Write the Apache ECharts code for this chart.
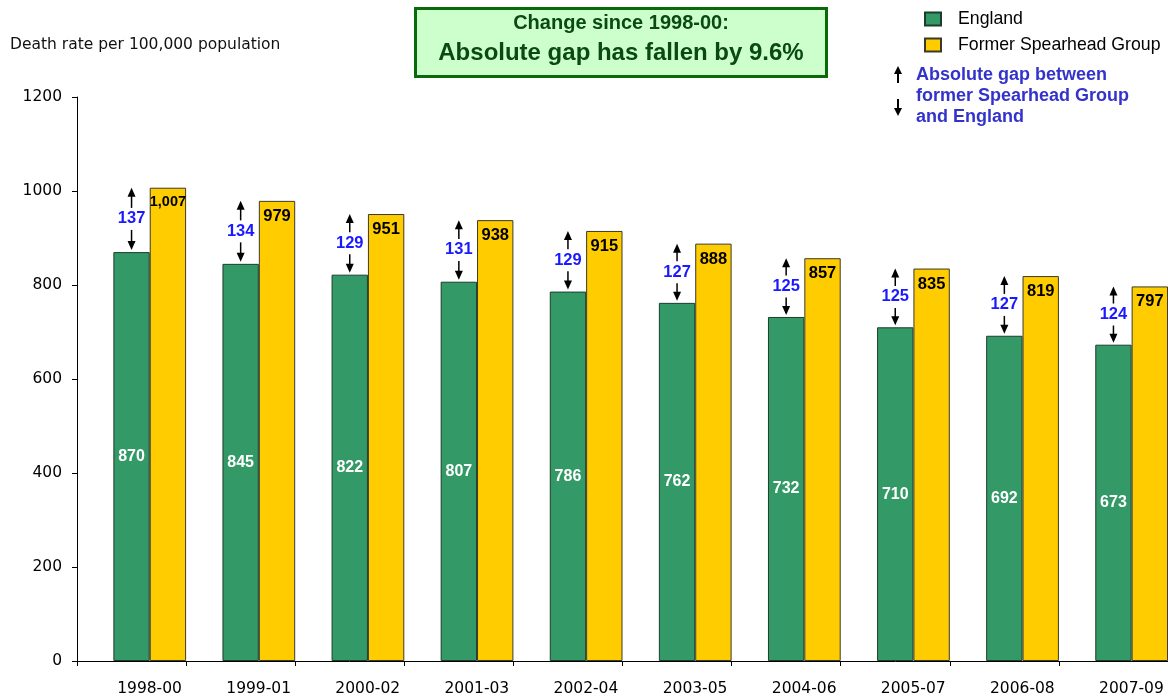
<!DOCTYPE html>
<html>
<head>
<meta charset="utf-8">
<script src="https://cdn.jsdelivr.net/npm/echarts@6/dist/echarts.min.js"></script>
<style>
  html, body { margin: 0; padding: 0; background: #fff; }
  #chart { width: 1168px; height: 697px; }
</style>
</head>
<body>
<div id="chart"></div>
<script>
const categories = ["1998-00", "1999-01", "2000-02", "2001-03", "2002-04", "2003-05", "2004-06", "2005-07", "2006-08", "2007-09"]
const england = [870, 845, 822, 807, 786, 762, 732, 710, 692, 673]
const spearhead = [1007, 979, 951, 938, 915, 888, 857, 835, 819, 797]
const gap = [137, 134, 129, 131, 129, 127, 125, 125, 127, 124]

const GREEN = "#339966"
const YELLOW = "#ffcc00"
const TAHOMA = "DejaVu Sans"
const ARIAL = "Liberation Sans"

// double arrow between the two bar tops, with the gap in the middle
function renderGap(params, api) {
    const i = api.value(0)
    const x = api.coord([i, 0])[0]
    const yE = api.coord([i, api.value(1)])[1] - 2
    const yS = api.coord([i, api.value(2)])[1]
    const mid = (yE + yS) / 2
    const stroke = { stroke: "#000", lineWidth: 1.5 }
    return {
        type: "group",
        children: [
            { type: "line", shape: { x1: x, y1: yS + 6, x2: x, y2: mid - 11 }, style: stroke },
            { type: "polygon", shape: { points: [[x, yS], [x - 4, yS + 9], [x + 4, yS + 9]] }, style: { fill: "#000" } },
            { type: "line", shape: { x1: x, y1: mid + 11, x2: x, y2: yE - 6 }, style: stroke },
            { type: "polygon", shape: { points: [[x, yE], [x - 4, yE - 9], [x + 4, yE - 9]] }, style: { fill: "#000" } },
            {
                type: "text", x: x, y: mid,
                style: { text: String(api.value(3)), fill: "#1a1aff", font: "bold 16.5px " + ARIAL, align: "center", verticalAlign: "middle" }
            }
        ]
    }
}

function arrow(x, y1, y2) {
    const dir = y2 > y1 ? 1 : -1
    return [
        { type: "line", shape: { x1: x, y1: y1, x2: x, y2: y2 - dir * 5 }, style: { stroke: "#000", lineWidth: 2 } },
        { type: "polygon", shape: { points: [[x, y2], [x - 4, y2 - dir * 8], [x + 4, y2 - dir * 8]] }, style: { fill: "#000" } }
    ]
}

const chart = echarts.init(document.getElementById("chart"))
chart.setOption({
    animation: false,
    grid: { left: 77, top: 97, width: 1095, bottom: 36 },
    legend: {
        data: ["England", "Former Spearhead Group"],
        orient: "vertical",
        icon: "rect",
        left: 919,
        top: 5,
        itemWidth: 16,
        itemHeight: 13,
        itemGap: 8,
        textStyle: { fontFamily: ARIAL, fontSize: 17.7, color: "#000", padding: [0, 0, 0, 12] }
    },
    xAxis: {
        type: "category",
        data: categories,
        axisLine: { lineStyle: { color: "#000", width: 1 } },
        axisTick: { show: true, length: 5, lineStyle: { color: "#000" } },
        axisLabel: { fontFamily: TAHOMA, fontSize: 15.5, color: "#000", margin: 20, padding: [0, 0, 0, 36] }
    },
    yAxis: {
        type: "value",
        min: 0,
        max: 1200,
        interval: 200,
        splitLine: { show: false },
        axisLine: { show: true, lineStyle: { color: "#000", width: 1 } },
        axisTick: { show: true, length: 5, lineStyle: { color: "#000" } },
        axisLabel: { fontFamily: TAHOMA, fontSize: 15.5, color: "#000", margin: 15, formatter: v => String(v) }
    },
    series: [
        {
            name: "spacer",
            type: "bar",
            data: categories.map(() => "-"),
            barGap: "0%",
            barCategoryGap: "0%",
            silent: true
        },
        {
            name: "England",
            type: "bar",
            data: england,
            barGap: "0%",
            barCategoryGap: "0%",
            itemStyle: { color: GREEN, borderColor: "#1d3d2c", borderWidth: 1 },
            label: { show: true, position: "inside", color: "#fff", fontFamily: ARIAL, fontWeight: "bold", fontSize: 16 }
        },
        {
            name: "Former Spearhead Group",
            type: "bar",
            data: spearhead.map(v => v >= 1000 ? { value: v, label: { fontSize: 14.5 } } : v),
            barGap: "0%",
            barCategoryGap: "0%",
            itemStyle: { color: YELLOW, borderColor: "#3a3a2a", borderWidth: 1 },
            label: {
                show: true, position: "insideTop", distance: 7, color: "#000",
                fontFamily: ARIAL, fontWeight: "bold", fontSize: 16.5,
                formatter: p => p.value.toLocaleString("en-US")
            }
        },
        {
            name: "gap",
            type: "custom",
            data: categories.map((c, i) => [i, england[i], spearhead[i], gap[i]]),
            encode: { x: 0, y: [1, 2] },
            renderItem: renderGap,
            silent: true,
            z: 5
        }
    ],
    graphic: [
        {
            type: "text", left: 10, top: 37,
            style: { text: "Death rate per 100,000 population", font: "15.5px " + TAHOMA, fill: "#111" }
        },
        {
            type: "group",
            children: [
                { type: "rect", shape: { x: 415.5, y: 8.5, width: 411, height: 68 }, style: { fill: "#ccffcc", stroke: "#0a6a0a", lineWidth: 3 } },
                { type: "text", x: 621, y: 23, style: { text: "Change since 1998-00:", font: "bold 20px " + ARIAL, fill: "#0a4a12", align: "center", verticalAlign: "middle" } },
                { type: "text", x: 621, y: 53, style: { text: "Absolute gap has fallen by 9.6%", font: "bold 24px " + ARIAL, fill: "#0a4a12", align: "center", verticalAlign: "middle" } }
            ]
        },
        {
            type: "group",
            children: [
                ...arrow(898, 83, 66),
                ...arrow(898, 99, 116),
                { type: "text", x: 916, y: 65, style: { text: "Absolute gap between\nformer Spearhead Group\nand England", font: "bold 18px " + ARIAL, fill: "#3333cc", lineHeight: 21 } }
            ]
        }
    ]
})
</script>
</body>
</html>
